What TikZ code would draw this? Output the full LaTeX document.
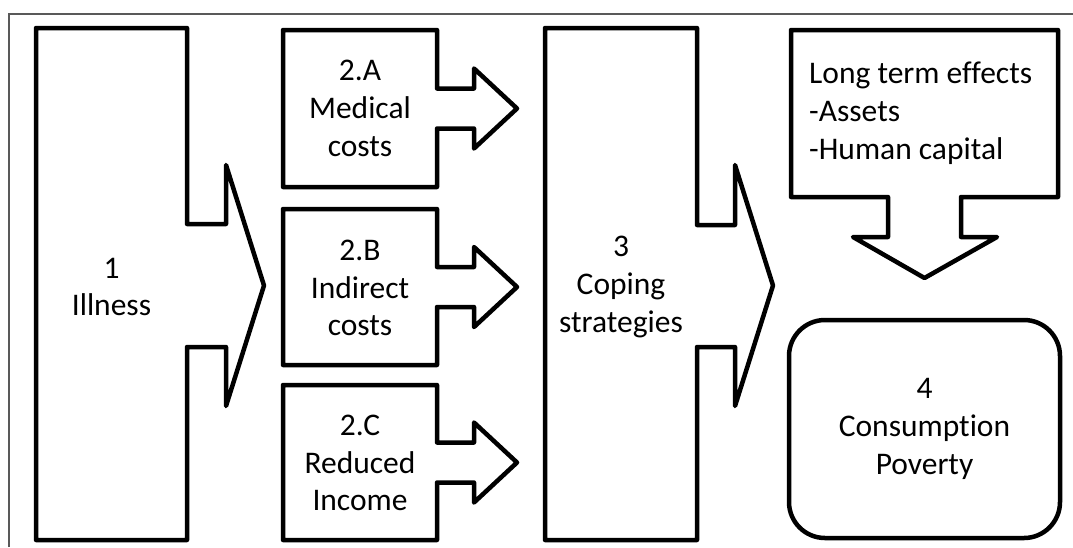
\documentclass[tikz,border=0pt]{standalone}
\usepackage{fontspec}
\setmainfont{Carlito}[Ligatures=NoCommon]
\usetikzlibrary{positioning}
\newcommand{\boxfont}{\fontsize{31.5}{37.8}\selectfont}

\begin{document}
\begin{tikzpicture}[
  x=1pt, y=-1pt,
  callout/.style={line width=4.5pt, line join=round},
  every node/.style={align=center, font=\boxfont, inner sep=0pt}
]
\useasboundingbox (0,0) rectangle (1073,547);

% frame
\draw[black!65, line width=1.5pt] (9,547) -- (9,14) -- (1073,14);

% 1: illness
\draw[callout] (36,28) -- (187,28) -- (187,224) -- (226,224) -- (226,165)
  -- (264,285.5) -- (226,406) -- (226,347) -- (187,347) -- (187,540)
  -- (36,540) -- cycle;
\node (illness) at (111.5,287) {1\\Illness};

% 2: costs
\draw[callout] (283,30) -- (437,30) -- (437,88.5) -- (474,88.5) -- (474,68.5)
  -- (517,108.5) -- (474,148.5) -- (474,128.5) -- (437,128.5) -- (437,187)
  -- (283,187) -- cycle;
\node (medical) at (360,108.5) {2.A\\Medical\\costs};

\draw[callout] (283,209) -- (437,209) -- (437,267) -- (474,267) -- (474,247)
  -- (517,287) -- (474,327) -- (474,307) -- (437,307) -- (437,365)
  -- (283,365) -- cycle;
\node (indirect) at (360,288) {2.B\\Indirect\\costs};

\draw[callout] (283,385) -- (437,385) -- (437,442.5) -- (474,442.5) -- (474,422.5)
  -- (517,462.5) -- (474,502.5) -- (474,482.5) -- (437,482.5) -- (437,540)
  -- (283,540) -- cycle;
\node (reduced) at (360,463) {2.C\\Reduced\\Income};

% 3: coping
\draw[callout] (545,28) -- (697,28) -- (697,225) -- (735,225) -- (735,165)
  -- (773,285.5) -- (735,406) -- (735,347) -- (697,347) -- (697,540)
  -- (545,540) -- cycle;
\node (coping) at (621,287) {3\\Coping\\strategies};

% long term effects, pointing down
\draw[callout] (791,30) -- (1058,30) -- (1058,197) -- (961,197) -- (961,237)
  -- (997,237) -- (924.5,278) -- (853,237) -- (888,237) -- (888,197)
  -- (791,197) -- cycle;
\node[align=left, anchor=west] (longterm) at (809,113.5)
  {Long term effects\\-Assets\\-Human capital};

% 4: poverty
\node[draw, line width=4.5pt, rounded corners=36pt,
  minimum width=271pt, minimum height=218pt] (poverty) at (924.5,429)
  {4\\Consumption\\Poverty};

\end{tikzpicture}
\end{document}
